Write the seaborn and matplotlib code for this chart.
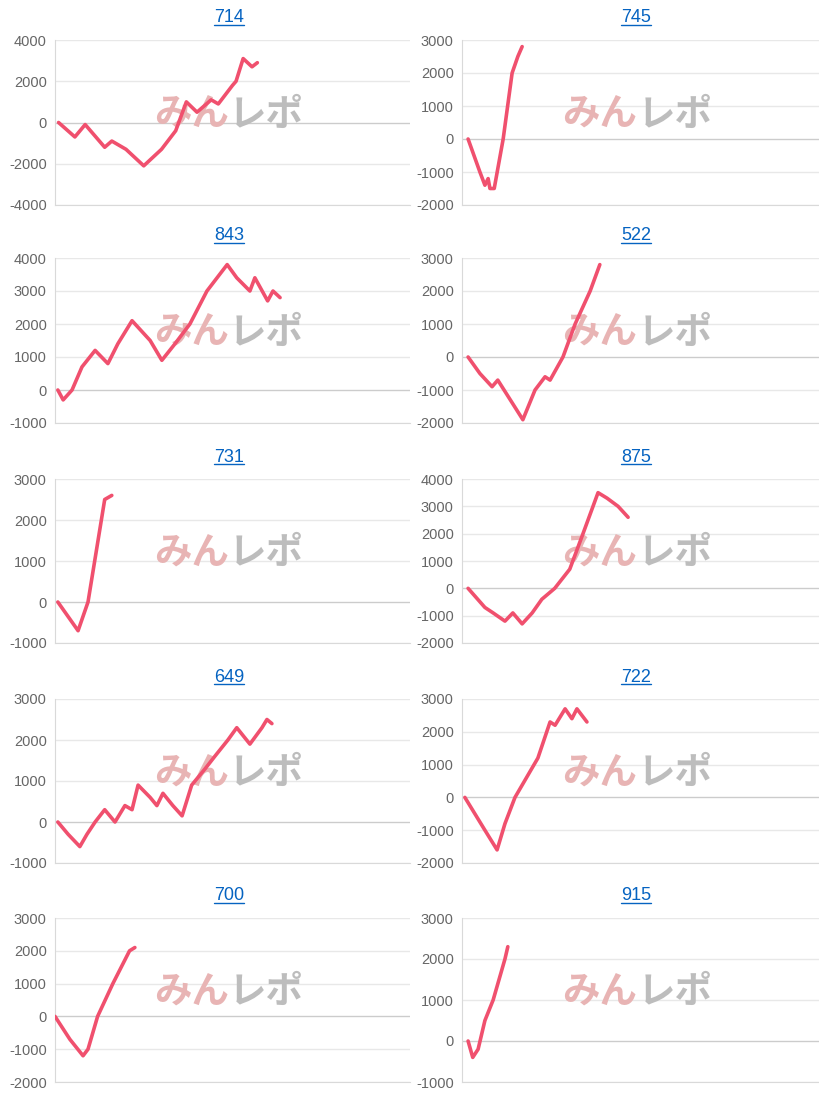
import numpy as np
import matplotlib
matplotlib.use("Agg")
import matplotlib.pyplot as plt
import seaborn as sns
from matplotlib.lines import Line2D

## Data (x = share of the panel width in %, y = difference in coins) ##

titles = ["714", "745", "843", "522", "731", "875", "649", "722", "700", "915"]

ylims = [(-4000, 4000), (-2000, 3000), (-1000, 4000), (-2000, 3000), (-1000, 3000),
         (-2000, 4000), (-1000, 3000), (-2000, 3000), (-2000, 3000), (-1000, 3000)]
ysteps = [2000, 1000, 1000, 1000, 1000, 1000, 1000, 1000, 1000, 1000]

x714 = [1, 5.6, 8.5, 14, 16, 20, 25, 30, 34, 37, 40, 44, 46, 50, 51, 53, 55.5, 57]
y714 = [0, -700, -100, -1200, -900, -1300, -2100, -1300, -400, 1000, 500, 1100, 900,
        1800, 2000, 3100, 2700, 2900]

x745 = [1.7, 5, 6.4, 7.3, 7.8, 9, 11.5, 14, 15.6, 16.8]
y745 = [0, -1000, -1400, -1200, -1500, -1500, 0, 2000, 2500, 2800]

x843 = [0.8, 2.3, 4.8, 7.6, 11.3, 14.9, 17.7, 21.7, 26.8, 30.1, 33.8, 38, 42.8, 48.5,
        51.2, 54.9, 56.3, 59.9, 61.4, 63.4]
y843 = [0, -300, 0, 700, 1200, 800, 1400, 2100, 1500, 900, 1400, 2000, 3000, 3800,
        3400, 3000, 3400, 2700, 3000, 2800]

x522 = [1.7, 5, 8.4, 10, 17, 20.4, 23.2, 24.6, 28.2, 31.6, 35.8, 38.5]
y522 = [0, -500, -900, -700, -1900, -1000, -600, -700, 0, 1000, 2000, 2800]

x731 = [0.8, 6.5, 9.3, 14, 16]
y731 = [0, -700, 0, 2500, 2600]

x875 = [1.7, 6.4, 8.7, 12, 14.2, 16.8, 19.6, 22.3, 25.9, 30.1, 33.8, 38, 40.5, 43.6, 46.4]
y875 = [0, -700, -900, -1200, -900, -1300, -900, -400, 0, 700, 2000, 3500, 3300, 3000, 2600]

x649 = [0.8, 3.7, 7, 9, 11.3, 14, 16.9, 19.7, 21.7, 23.4, 26.8, 28.7, 30.4, 33.2, 35.8,
        38.5, 42.3, 45, 48.7, 51.2, 54.9, 58.3, 59.7, 61.1]
y649 = [0, -300, -600, -300, 0, 300, 0, 400, 300, 900, 600, 400, 700, 400, 150, 900,
        1300, 1600, 2000, 2300, 1900, 2300, 2500, 2400]

x722 = [0.8, 6.4, 9.8, 12, 14.8, 21.2, 24.6, 26, 28.8, 30.7, 32.1, 34.9]
y722 = [0, -1000, -1600, -800, 0, 1200, 2300, 2200, 2700, 2400, 2700, 2300]

x700 = [0, 4.2, 7.9, 9.3, 12, 16.3, 21, 22.5]
y700 = [0, -700, -1200, -1000, 0, 1000, 2000, 2100]

x915 = [1.7, 3, 4.5, 6.4, 8.7, 12, 12.8]
y915 = [0, -400, -200, 500, 1000, 2000, 2300]

xs = [x714, x745, x843, x522, x731, x875, x649, x722, x700, x915]
ys = [y714, y745, y843, y522, y731, y875, y649, y722, y700, y915]

## Plotting ##

sns.set_style("white")
plt.rcParams['font.family'] = ['Liberation Sans', 'Noto Sans CJK JP', 'DejaVu Sans']
plt.rcParams['axes.unicode_minus'] = False

W, H = 820, 1100
fig = plt.figure(figsize=(W / 100, H / 100), dpi=100)

col_x = [(55, 410), (462, 820)]
row_y = [(40, 205), (258, 423), (479, 643), (699, 863), (918, 1082)]

titles_txt = []
for i in range(10):
    r, c = divmod(i, 2)
    x0, x1 = col_x[c]
    top, bot = row_y[r]
    ax = fig.add_axes([x0 / W, 1 - bot / H, (x1 - x0) / W, (bot - top) / H])
    lo, hi = ylims[i]
    ticks = np.arange(lo, hi + 1, ysteps[i])
    ax.set_xlim(0, 100)
    ax.set_ylim(lo, hi)
    ax.set_yticks(ticks)
    ax.set_xticks([])
    for t in ticks:
        ax.axhline(t, color='#cccccc' if t == 0 else '#e8e8e8', lw=1, zorder=0)
    for s in ['top', 'right']:
        ax.spines[s].set_visible(False)
    ax.spines['left'].set_color('#d9d9d9')
    ax.spines['bottom'].set_color('#d9d9d9')
    ax.tick_params(axis='y', length=0, labelsize=10.5, labelcolor='#666666', pad=6)
    # watermark
    for txt, col, ha in [("みん", '#e8b4b4', 'right'), ("レポ", '#bdbdbd', 'left')]:
        ax.text(0.49, 0.55, txt, transform=ax.transAxes, ha=ha, va='center',
                fontsize=27, fontweight='bold', style='italic', color=col, zorder=1,
                family=['Noto Sans CJK JP'])
    sns.lineplot(x=xs[i], y=ys[i], ax=ax, color='#f0506e', lw=2.6, zorder=3)
    t = fig.text((x0 + x1) / 2 / W - (0.004 if c == 0 else 0.006), 1 - (top - 22) / H,
                 titles[i], ha='center', va='center', fontsize=13, color='#0563c1')
    titles_txt.append(t)

fig.canvas.draw()
rend = fig.canvas.get_renderer()
for t in titles_txt:
    bb = t.get_window_extent(rend).transformed(fig.transFigure.inverted())
    fig.add_artist(Line2D([bb.x0, bb.x1], [bb.y0 + 0.001, bb.y0 + 0.001],
                          color='#0563c1', lw=1, transform=fig.transFigure))

fig.savefig("out.png", dpi=100)
